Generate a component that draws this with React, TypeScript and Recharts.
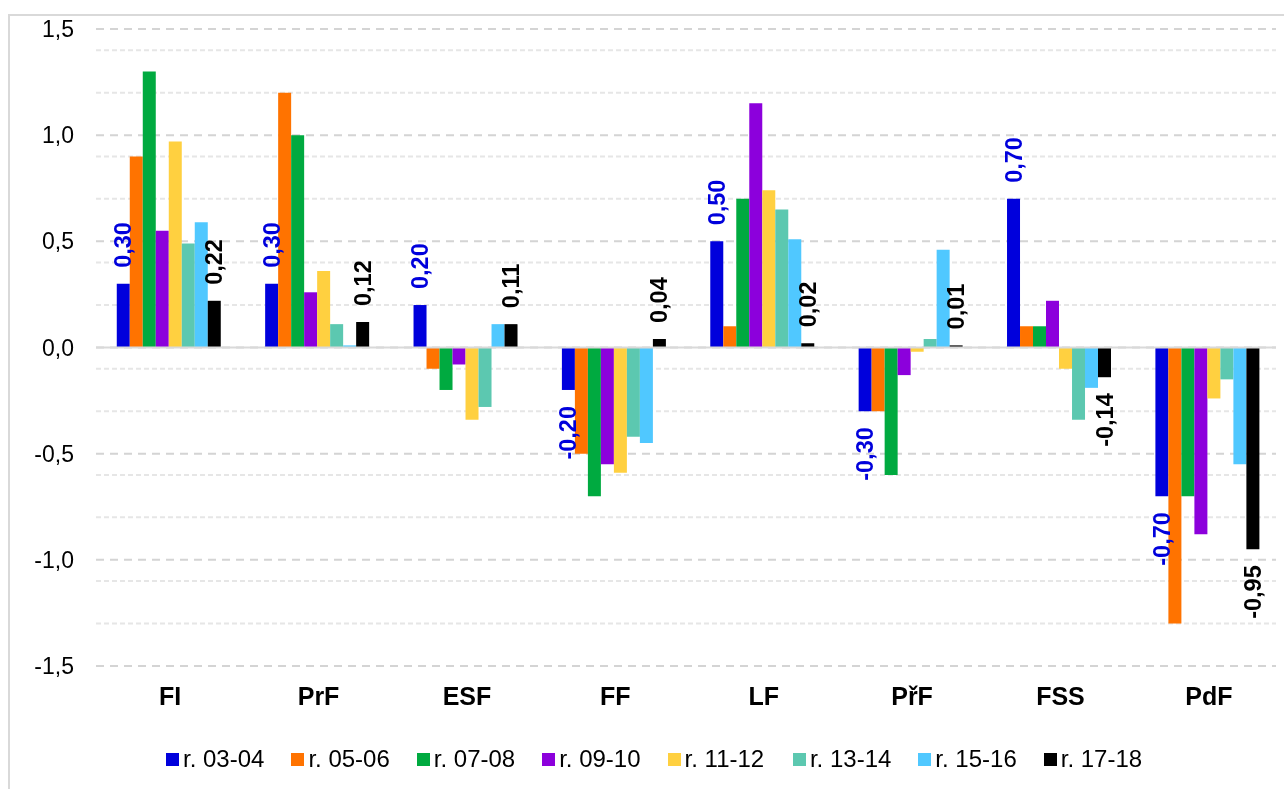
import React from 'react';
import { Bar, BarChart, CartesianGrid, LabelList, Legend, ReferenceLine, XAxis, YAxis } from 'recharts';

const categories = ['FI', 'PrF', 'ESF', 'FF', 'LF', 'PřF', 'FSS', 'PdF'];

const r0304 = [0.3, 0.3, 0.2, -0.2, 0.5, -0.3, 0.7, -0.7];
const r0506 = [0.9, 1.2, -0.1, -0.5, 0.1, -0.3, 0.1, -1.3];
const r0708 = [1.3, 1.0, -0.2, -0.7, 0.7, -0.6, 0.1, -0.7];
const r0910 = [0.55, 0.26, -0.08, -0.55, 1.15, -0.13, 0.22, -0.88];
const r1112 = [0.97, 0.36, -0.34, -0.59, 0.74, -0.02, -0.1, -0.24];
const r1314 = [0.49, 0.11, -0.28, -0.42, 0.65, 0.04, -0.34, -0.15];
const r1516 = [0.59, 0.01, 0.11, -0.45, 0.51, 0.46, -0.19, -0.55];
const r1718 = [0.22, 0.12, 0.11, 0.04, 0.02, 0.01, -0.14, -0.95];

const seriesNames = ['r. 03-04', 'r. 05-06', 'r. 07-08', 'r. 09-10', 'r. 11-12', 'r. 13-14', 'r. 15-16', 'r. 17-18'];
const seriesValues = [r0304, r0506, r0708, r0910, r1112, r1314, r1516, r1718];

const yTicks = [-1.5, -1.0, -0.5, 0, 0.5, 1.0, 1.5];
const minorTicks = [
  -1.4, -1.3, -1.2, -1.1, -0.9, -0.8, -0.7, -0.6, -0.4, -0.3, -0.2, -0.1,
  0.1, 0.2, 0.3, 0.4, 0.6, 0.7, 0.8, 0.9, 1.1, 1.2, 1.3, 1.4,
];

const colors = ['#0000dc', '#ff7300', '#00aa40', '#8c00dc', '#ffd040', '#5cc8b0', '#50c8ff', '#000000'];
const font = '"Liberation Sans", Arial, sans-serif';

const data = categories.map((name, i) => {
  const row: { [key: string]: string | number } = { name };
  seriesValues.forEach((vals, s) => {
    row['s' + s] = vals[i];
  });
  return row;
});

const fmt = (v: number, digits: number) => v.toFixed(digits).replace('.', ',');

// rotated value label, just past the end of the bar
const makeLabel = (color: string) => (props: any) => {
  const { x, y, width, height, value } = props;
  if (value == null) return null;
  const v = Number(value);
  const cx = Number(x) + Number(width) / 2;
  const y1 = Number(y);
  const y2 = Number(y) + Number(height);
  const top = Math.min(y1, y2);
  const bottom = Math.max(y1, y2);
  const ay = v >= 0 ? top - 16 : bottom + 16;
  return (
    <text
      x={cx}
      y={ay}
      transform={`rotate(-90 ${cx} ${ay})`}
      textAnchor={v >= 0 ? 'start' : 'end'}
      dominantBaseline="central"
      fill={color}
      fontSize={23.5}
      fontWeight="bold"
      fontFamily={font}
    >
      {fmt(v, 2)}
    </text>
  );
};

const renderLegend = () => (
  <div style={{ display: 'flex', height: 30, alignItems: 'center', fontFamily: font }}>
    {seriesNames.map((n, i) => (
      <div key={n} style={{ width: 125.4, flex: 'none', display: 'flex', alignItems: 'center' }}>
        <span style={{ width: 13, height: 13, background: colors[i], marginRight: 4, flex: 'none' }} />
        <span style={{ fontSize: 24, color: '#000', whiteSpace: 'nowrap' }}>{n}</span>
      </div>
    ))}
  </div>
);

export default function App() {
  return (
    <div style={{ position: 'relative', width: 1275, height: 773 }}>
      {/* chart frame, runs off the right and bottom edges */}
      <div
        style={{
          position: 'fixed',
          top: 14,
          left: 8,
          right: 0,
          bottom: 0,
          borderTop: '2px solid #d9d9d9',
          borderLeft: '2px solid #d9d9d9',
          pointerEvents: 'none',
        }}
      />
      <BarChart
        width={1275}
        height={773}
        data={data}
        margin={{ top: 21, right: 0, left: 0, bottom: 35 }}
        barCategoryGap="14%"
        barGap={0}
      >
        <CartesianGrid horizontalValues={minorTicks} vertical={false} stroke="#e6e6e6" strokeWidth={2} strokeDasharray="5 3" />
        <CartesianGrid vertical={false} stroke="#d4d4d4" strokeWidth={2} strokeDasharray="8 6" />
        <XAxis
          dataKey="name"
          axisLine={false}
          tickLine={false}
          tickSize={0}
          tickMargin={21}
          height={50}
          interval={0}
          tick={{ fontSize: 25, fontWeight: 'bold', fill: '#000', fontFamily: font }}
        />
        <YAxis
          domain={[-1.5, 1.5]}
          ticks={yTicks}
          width={88}
          axisLine={false}
          tickLine={false}
          tickSize={0}
          tickMargin={22}
          tickFormatter={(v: number) => fmt(v, 1)}
          tick={{ fontSize: 23, fill: '#000', fontFamily: font }}
        />
        {seriesNames.map((n, s) => (
          <Bar key={n} dataKey={'s' + s} name={n} fill={colors[s]} isAnimationActive={false}>
            {s === 0 && <LabelList dataKey={'s' + s} content={makeLabel(colors[0])} />}
            {s === 7 && <LabelList dataKey={'s' + s} content={makeLabel('#000')} />}
          </Bar>
        ))}
        <ReferenceLine y={0} stroke="#d9d9d9" strokeWidth={2} />
        <Legend content={renderLegend} wrapperStyle={{ top: 736, left: 158, width: 1100, height: 30 }} />
      </BarChart>
    </div>
  );
}
